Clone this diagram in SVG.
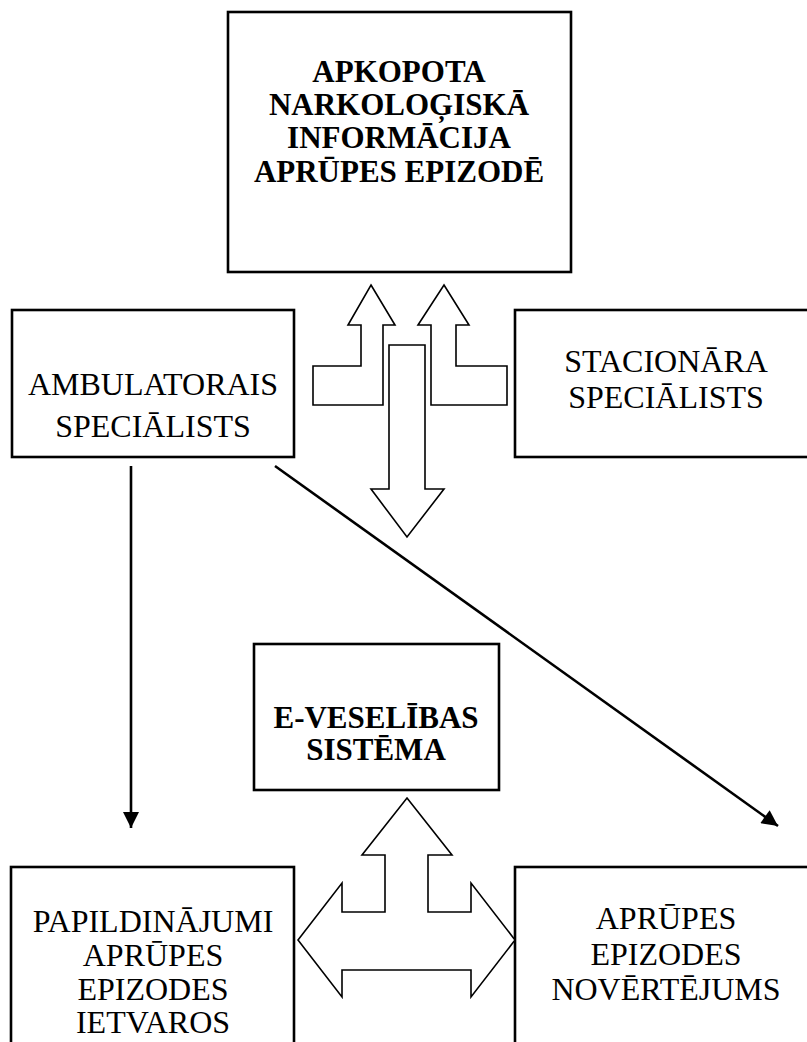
<svg xmlns="http://www.w3.org/2000/svg" width="807" height="1042" viewBox="0 0 807 1042">
<style>
.box{fill:#fff;stroke:#000;stroke-width:2.6}
.t{font-family:"Liberation Serif","Times New Roman",serif;font-size:32px;fill:#000;text-anchor:middle}
.b{font-family:"Liberation Serif","Times New Roman",serif;font-size:31px;font-weight:bold;fill:#000;text-anchor:middle}
.blk{fill:#fff;stroke:#000;stroke-width:1.6;stroke-linejoin:miter}
.ln{stroke:#000;stroke-width:2.6;fill:none}
</style>
<defs>
<marker id="ah2" viewBox="0 0 10 10" refX="10" refY="5" markerWidth="20" markerHeight="16" orient="auto" markerUnits="userSpaceOnUse">
<path d="M0,0 L10,5 L0,10 Z" fill="#000"/>
</marker>
</defs>
<rect width="807" height="1042" fill="#fff"/>
<g id="node-apkopota">
<rect class="box" x="228" y="12" width="343" height="260"/>
<text class="b" x="399" y="82">APKOPOTA</text>
<text class="b" x="399" y="115">NARKOLOĢISKĀ</text>
<text class="b" x="399" y="148">INFORMĀCIJA</text>
<text class="b" x="399" y="182">APRŪPES EPIZODĒ</text>
</g>
<g id="node-ambulatorais">
<rect class="box" x="12" y="310" width="282" height="147"/>
<text class="t" x="153" y="395">AMBULATORAIS</text>
<text class="t" x="153" y="437">SPECIĀLISTS</text>
</g>
<g id="node-stacionara">
<rect class="box" x="515" y="310" width="310" height="147"/>
<text class="t" x="666" y="372">STACIONĀRA</text>
<text class="t" x="666" y="408">SPECIĀLISTS</text>
</g>
<g id="node-eveselibas">
<rect class="box" x="254" y="644" width="245" height="146"/>
<text class="b" x="376" y="728">E-VESELĪBAS</text>
<text class="b" x="376" y="760">SISTĒMA</text>
</g>
<g id="node-papildinajumi">
<rect class="box" x="11" y="867" width="283" height="190"/>
<text class="t" x="153" y="932">PAPILDINĀJUMI</text>
<text class="t" x="153" y="966">APRŪPES</text>
<text class="t" x="153" y="1000">EPIZODES</text>
<text class="t" x="153" y="1033">IETVAROS</text>
</g>
<g id="node-novertejums">
<rect class="box" x="515" y="867" width="310" height="190"/>
<text class="t" x="666" y="929">APRŪPES</text>
<text class="t" x="666" y="965">EPIZODES</text>
<text class="t" x="666" y="1000">NOVĒRTĒJUMS</text>
</g>
<g id="connectors">
<polygon class="blk" points="371,285 395,325 383,325 383,405 313,405 313,366 361,366 361,325 348,325"/>
<polygon class="blk" points="444,285 469,325 456,325 456,366 507,366 507,405 431,405 431,325 418,325"/>
<polygon class="blk" points="389,345 425,345 425,489 444,489 407,537 371,489 389,489"/>
<polygon class="blk" points="407,798 452,855 428,855 428,912 471,912 471,883 515,940 471,997 471,970 342,970 342,997 298,940 342,883 342,912 385,912 385,855 362,855"/>
<line class="ln" x1="131" y1="466" x2="131" y2="828" marker-end="url(#ah2)"/>
<line class="ln" x1="275" y1="466" x2="778" y2="826" marker-end="url(#ah2)"/>
</g>
</svg>
